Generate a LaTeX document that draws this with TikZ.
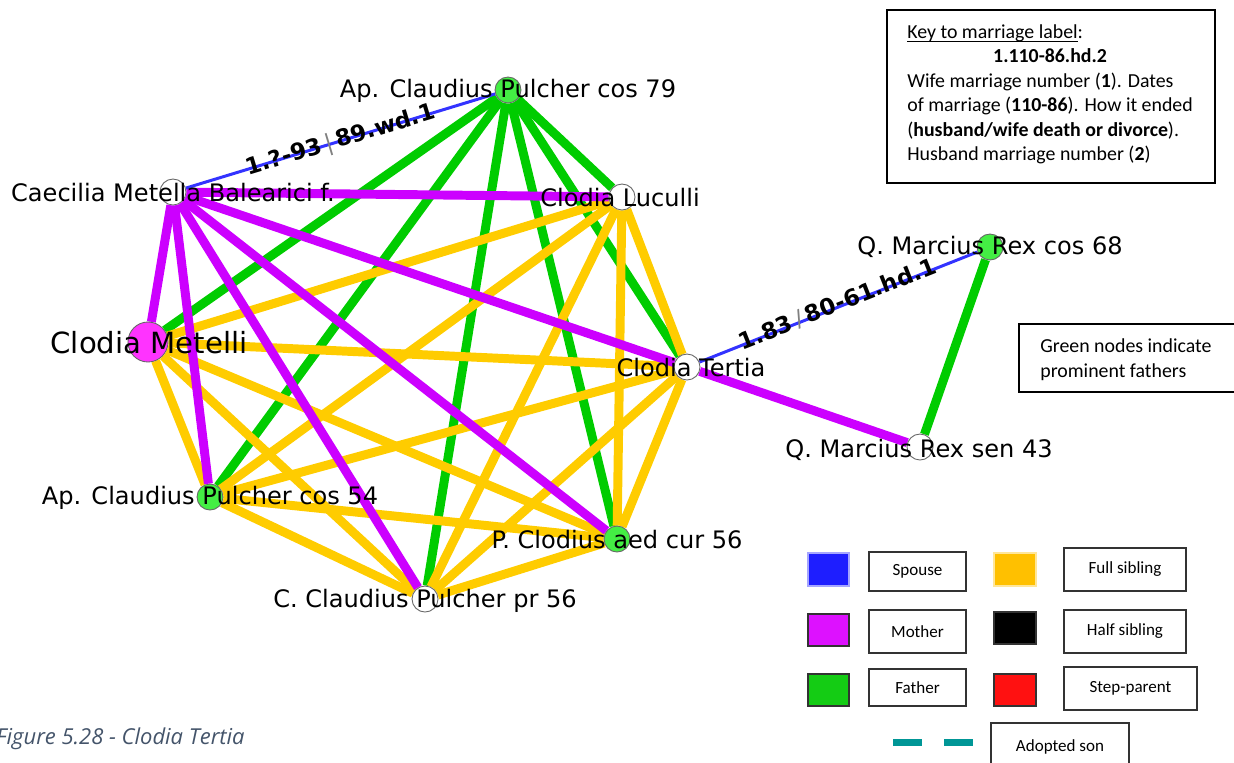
\documentclass[tikz,border=0pt]{standalone}
\usepackage{fontspec}
\newfontfamily\netfont{DejaVu Sans}
\newfontfamily\keyfont{Carlito}
\newfontfamily\capfont{Open Sans}
\pgfdeclarelayer{edges}
\pgfsetlayers{edges,main}
\definecolor{spouseblue}{RGB}{51,51,255}
\definecolor{mothermag}{RGB}{204,0,255}
\definecolor{fathergreen}{RGB}{0,204,0}
\definecolor{sibyellow}{RGB}{255,204,0}
\definecolor{nodegreen}{RGB}{68,238,68}
\definecolor{nodemag}{RGB}{255,51,255}
\definecolor{adoptteal}{RGB}{0,150,150}
\definecolor{captionslate}{RGB}{68,84,106}
\definecolor{keyblue}{RGB}{30,30,255}
\definecolor{keymag}{RGB}{221,17,255}
\definecolor{keygreen}{RGB}{20,204,20}
\definecolor{keyyellow}{RGB}{255,192,0}
\definecolor{keyred}{RGB}{255,17,17}

\begin{document}
\begin{tikzpicture}[x=0.02cm,y=-0.02cm,
  person/.style={circle, draw=black!60, line width=0.5pt, fill=white, minimum size=0.52cm, inner sep=0pt},
  famous/.style={person, fill=nodegreen},
  pname/.style={font=\netfont\fontsize{13.7}{16}\selectfont, inner sep=0pt},
  bigname/.style={font=\netfont\fontsize{16.6}{20}\selectfont, inner sep=0pt},
  kin/.style={line width=5.1pt},
  spouse/.style={line width=1.7pt, spouseblue},
  mother/.style={kin, mothermag},
  father/.style={kin, fathergreen},
  fullsib/.style={kin, sibyellow},
  wedlabel/.style={font=\netfont\bfseries\fontsize{13}{15}\selectfont, sloped, inner sep=0pt},
  keytext/.style={font=\keyfont\fontsize{11.3}{13.9}\selectfont, inner sep=0pt},
  legendbox/.style={draw=black!80, line width=0.6pt, font=\keyfont\fontsize{9.7}{11}\selectfont, inner sep=0pt},
  swatch/.style={draw=black!80, line width=0.6pt}
]
\useasboundingbox (0,0) rectangle (1234,762);

% people
\node[famous] (ap79) at (508,90) {};
\node[person] (caec) at (173,192) {};
\node[person] (luc) at (622,197) {};
\node[person, fill=nodemag, minimum size=0.8cm] (met) at (148,342) {};
\node[person] (ter) at (687,367) {};
\node[famous] (rex68) at (990,247) {};
\node[person] (rex43) at (920,447) {};
\node[famous] (ap54) at (210,497) {};
\node[famous] (clod) at (617,539) {};
\node[person] (ccl) at (425,599) {};

\begin{pgfonlayer}{edges}
  % fathers
  \draw[father] (ap79) -- (met);
  \draw[father] (ap79) -- (ap54);
  \draw[father] (ap79) -- (ccl);
  \draw[father] (ap79) -- (clod);
  \draw[father] (ap79) -- (luc);
  \draw[father] (ap79) -- (ter);
  \draw[father] (rex68) -- (rex43);
  % full siblings
  \draw[fullsib] (met) -- (luc);
  \draw[fullsib] (met) -- (ter);
  \draw[fullsib] (met) -- (ap54);
  \draw[fullsib] (met) -- (clod);
  \draw[fullsib] (met) -- (ccl);
  \draw[fullsib] (luc) -- (ter);
  \draw[fullsib] (luc) -- (ap54);
  \draw[fullsib] (luc) -- (clod);
  \draw[fullsib] (luc) -- (ccl);
  \draw[fullsib] (ter) -- (ap54);
  \draw[fullsib] (ter) -- (clod);
  \draw[fullsib] (ter) -- (ccl);
  \draw[fullsib] (ap54) -- (clod);
  \draw[fullsib] (ap54) -- (ccl);
  \draw[fullsib] (clod) -- (ccl);
  % mothers
  \draw[mother] (caec) -- (luc);
  \draw[mother] (caec) -- (met);
  \draw[mother] (caec) -- (ap54);
  \draw[mother] (caec) -- (ccl);
  \draw[mother] (caec) -- (clod);
  \draw[mother] (caec) -- (ter);
  \draw[mother] (ter) -- (rex43);
  % marriages
  \draw[spouse] (caec) -- (ap79);
  \draw[spouse] (ter) -- (rex68);
\end{pgfonlayer}

% names
\node[pname] (ap79n) at (508,91) {Ap. Claudius Pulcher cos 79};
\node[pname] (caecn) at (173,193) {Caecilia Metella Balearici f.};
\node[pname] (lucn) at (620,198) {Clodia Luculli};
\node[bigname] (metn) at (149,343) {Clodia Metelli};
\node[pname] (tern) at (691,368) {Clodia Tertia};
\node[pname] (rex68n) at (990,247) {Q. Marcius Rex cos 68};
\node[pname] (rex43n) at (919,450) {Q. Marcius Rex sen 43};
\node[pname] (ap54n) at (210,498) {Ap. Claudius Pulcher cos 54};
\node[pname] (clodn) at (617,540) {P. Clodius aed cur 56};
\node[pname] (ccln) at (425,601) {C. Claudius Pulcher pr 56};

% marriage labels
\path (caec) -- node[wedlabel, pos=0.5] (wed1) {1.?-93\,{\color{gray}\mdseries|}\,89.wd.1} (ap79);
\path (ter) -- node[wedlabel, pos=0.5, yshift=0.06cm] (wed2) {1.83\,{\color{gray}\mdseries/}\,80-61.hd.1} (rex68);

% key to marriage label
\draw[line width=0.6pt] (887,10) rectangle (1215,183);
\node[keytext, anchor=north west] (keytxt) at (907,21) {%
  \begin{tabular}{@{}l@{}}
  \underline{\smash{Key to marriage label}}:\\
  \multicolumn{1}{@{}c@{}}{\bfseries 1.110-86.hd.2}\\
  Wife marriage number (\textbf{1}). Dates\\
  of marriage (\textbf{110-86}). How it ended\\
  (\textbf{husband/wife death or divorce}).\\
  Husband marriage number (\textbf{2})
  \end{tabular}};

% note on green nodes
\draw[line width=0.6pt] (1019,324) rectangle (1240,392);
\node[keytext, anchor=west, align=left] (greennote) at (1040,359.5) {Green nodes indicate\\prominent fathers};

% legend
\draw[draw=keyblue!40, fill=keyblue, line width=0.6pt] (808,553) rectangle (849,586);
\draw[swatch, fill=keymag] (808,614) rectangle (849,646);
\draw[swatch, fill=keygreen] (808,674) rectangle (849,706);
\draw[draw=keyyellow!40, fill=keyyellow, line width=0.6pt] (994,553) rectangle (1036,586);
\draw[swatch, fill=black] (994,612) rectangle (1036,644);
\draw[swatch, fill=keyred] (994,674) rectangle (1036,706);
\draw[adoptteal, line width=0.14cm, dash pattern=on 0.58cm off 0.44cm] (893,742.5) -- (973,742.5);

\node[legendbox, minimum width=1.94cm, minimum height=0.78cm] (lspouse) at (917.5,571.5) {Spouse};
\node[legendbox, minimum width=1.94cm, minimum height=0.86cm] (lmother) at (917.5,631.5) {Mother};
\node[legendbox, minimum width=1.94cm, minimum height=0.74cm] (lfather) at (917.5,687.5) {Father};
\node[legendbox, minimum width=2.44cm, minimum height=0.86cm] (lfull) at (1125,569.5) {Full sibling};
\node[legendbox, minimum width=2.44cm, minimum height=0.86cm] (lhalf) at (1125,631.5) {Half sibling};
\node[legendbox, minimum width=2.66cm, minimum height=0.86cm] (lstep) at (1130.5,688.5) {Step-parent};
\node[legendbox, minimum width=2.76cm, minimum height=0.94cm] (ladopt) at (1060,746.5) {Adopted son};

% caption
\node[font=\capfont\itshape\fontsize{12.5}{15}\selectfont, text=captionslate, anchor=east, inner sep=0pt] (caption) at (245,739) {Figure 5.28 - Clodia Tertia};
\end{tikzpicture}
\end{document}
